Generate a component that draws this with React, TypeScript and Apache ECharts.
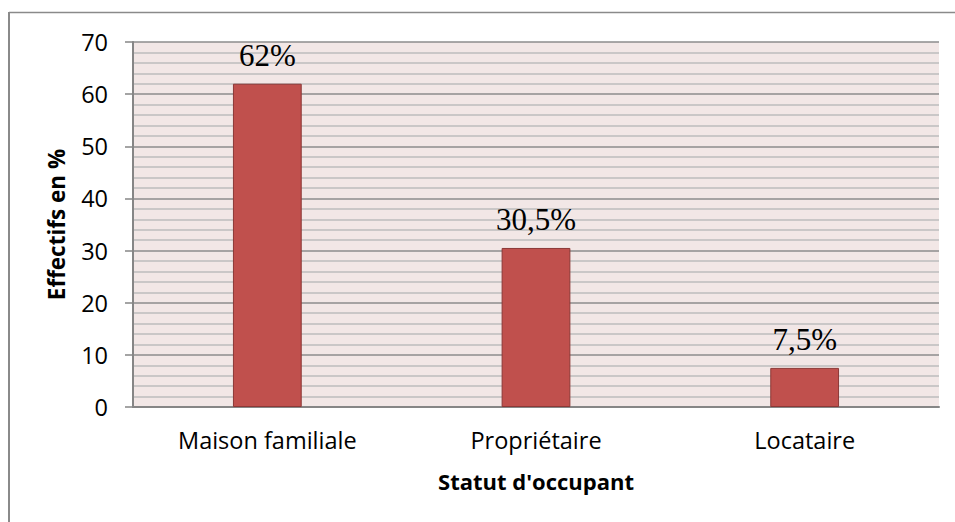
import React, { useEffect, useRef } from "react";
import * as echarts from "echarts";

const categories = ["Maison familiale", "Propriétaire", "Locataire"];
const values = [62, 30.5, 7.5];
const valueLabels = ["62%", "30,5%", "7,5%"];
const yTicks = [0, 10, 20, 30, 40, 50, 60, 70];

export default function App() {
  const ref = useRef<HTMLDivElement>(null);
  useEffect(() => {
    if (!ref.current) return;
    const chart = echarts.init(ref.current, null, { renderer: "svg" });
    const sans = "'Open Sans', 'Noto Sans', sans-serif";
    chart.setOption({
      animation: false,
      backgroundColor: "#ffffff",
      graphic: [
        { type: "line", shape: { x1: 9, y1: 12.5, x2: 955, y2: 12.5 }, style: { stroke: "#8a8a8a", lineWidth: 1.5 } },
        { type: "line", shape: { x1: 9, y1: 12, x2: 9, y2: 522 }, style: { stroke: "#8a8a8a", lineWidth: 2 } },
      ],
      grid: {
        left: 133,
        right: 16,
        top: 42,
        bottom: 115,
        show: true,
        backgroundColor: "#f2e7e6",
        borderWidth: 0,
      },
      xAxis: {
        type: "category",
        data: categories,
        axisLine: { show: true, lineStyle: { color: "#868686", width: 2 } },
        axisTick: { show: false },
        axisLabel: { color: "#000", fontFamily: sans, fontSize: 23.5, margin: 21 },
        name: "Statut d'occupant",
        nameLocation: "middle",
        nameGap: 63,
        nameTextStyle: { color: "#000", fontFamily: sans, fontSize: 22, fontWeight: "bold" },
      },
      yAxis: {
        type: "value",
        min: yTicks[0],
        max: yTicks[yTicks.length - 1],
        interval: 10,
        axisLine: { show: true, lineStyle: { color: "#868686", width: 2 } },
        axisTick: { show: true, length: 8, lineStyle: { color: "#868686", width: 1.5 } },
        axisLabel: { color: "#000", fontFamily: sans, fontSize: 23.5, margin: 25 },
        splitLine: { show: true, lineStyle: { color: "#8c8c8c", width: 1.5 } },
        minorTick: { show: false, splitNumber: 5 },
        minorSplitLine: { show: true, lineStyle: { color: "#bdbdbd", width: 1.5 } },
        name: "Effectifs en %",
        nameLocation: "middle",
        nameGap: 65,
        nameRotate: 90,
        nameTextStyle: { color: "#000", fontFamily: sans, fontSize: 22.5, fontWeight: "bold" },
      },
      series: [
        {
          type: "bar",
          data: values,
          barWidth: "25.6%",
          itemStyle: { color: "#c0504d", borderColor: "#8c3836", borderWidth: 1 },
          label: {
            show: true,
            position: "top",
            distance: 13,
            fontFamily: "'Liberation Serif', 'Times New Roman', serif",
            fontSize: 31,
            color: "#000",
            formatter: (p: any) => valueLabels[p.dataIndex],
          },
        },
      ],
    });
    return () => chart.dispose();
  }, []);
  return <div ref={ref} style={{ position: "absolute", left: 0, top: 0, width: 955, height: 522 }} />;
}
